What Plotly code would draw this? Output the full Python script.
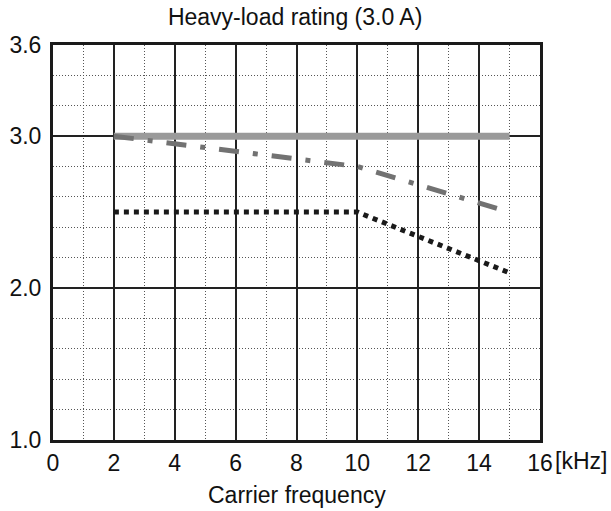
import plotly.graph_objects as go

# Carrier frequency [kHz] and rated current [A] for each derating curve
freq_flat = [2, 15]
current_flat = [3.0, 3.0]

freq_dashdot = [2, 10, 15]
current_dashdot = [3.0, 2.8, 2.5]

freq_dotted = [2, 10, 15]
current_dotted = [2.5, 2.5, 2.1]

x_ticks = [0, 2, 4, 6, 8, 10, 12, 14, 16]
x_ticktext = ["0", "2", "4", "6", "8", "10", "12", "14", "16"]
x_minor = [1, 3, 5, 7, 9, 11, 13, 15]
y_ticks = [1.0, 2.0, 3.0, 3.6]
y_ticktext = ["1.0", "2.0", "3.0", "3.6"]
y_minor = [1.2, 1.4, 1.6, 1.8, 2.2, 2.4, 2.6, 2.8, 3.2, 3.4]

FONT = "Liberation Sans, Arial, sans-serif"
FS = 23

fig = go.Figure()
fig.add_trace(go.Scatter(x=freq_flat, y=current_flat, mode="lines",
                         line=dict(color="#9a9a9a", width=7), showlegend=False))
fig.add_trace(go.Scatter(x=freq_dashdot, y=current_dashdot, mode="lines",
                         line=dict(color="#727272", width=5, dash="20px,14px,5px,14px"),
                         showlegend=False))
fig.add_trace(go.Scatter(x=freq_dotted, y=current_dotted, mode="lines",
                         line=dict(color="#1a1a1a", width=5, dash="5px,5px"),
                         showlegend=False))

fig.update_layout(
    width=611, height=511,
    margin=dict(l=53, r=71, t=45, b=71),
    paper_bgcolor="white", plot_bgcolor="white",
    font=dict(family=FONT, size=FS, color="#111"),
    title=dict(text="Heavy-load rating (3.0 A)", x=0.483, xanchor="center",
               y=0.967, yanchor="middle", font=dict(size=FS)),
)

fig.update_xaxes(
    range=[0, 16], tickvals=x_ticks, ticktext=x_ticktext, automargin=False,
    showline=True, linewidth=3, linecolor="#1a1a1a", mirror=True,
    showgrid=True, gridcolor="#222", gridwidth=1.5,
    zeroline=False, ticks="", ticklabelstandoff=0,
    minor=dict(tickvals=x_minor, showgrid=True, gridcolor="#555",
               gridwidth=1, griddash="1px,2px"),
)
fig.update_yaxes(
    range=[1.0, 3.6], tickvals=y_ticks, ticktext=y_ticktext, automargin=False,
    showline=True, linewidth=3, linecolor="#1a1a1a", mirror=True,
    showgrid=True, gridcolor="#222", gridwidth=1.5,
    zeroline=False, ticks="", ticklabelstandoff=4,
    minor=dict(tickvals=y_minor, showgrid=True, gridcolor="#555",
               gridwidth=1, griddash="1px,2px"),
)

# unit suffix that follows the last x tick label
fig.add_annotation(text="[kHz]", xref="paper", yref="paper", x=1, y=0,
                   xanchor="left", yanchor="middle", xshift=13, yshift=-21,
                   showarrow=False, font=dict(size=FS))
# x-axis caption
fig.add_annotation(text="Carrier frequency", xref="paper", yref="paper",
                   x=0.5, y=0, xanchor="center", yanchor="middle",
                   yshift=-55, showarrow=False, font=dict(size=FS))

fig.write_html("out.html")
